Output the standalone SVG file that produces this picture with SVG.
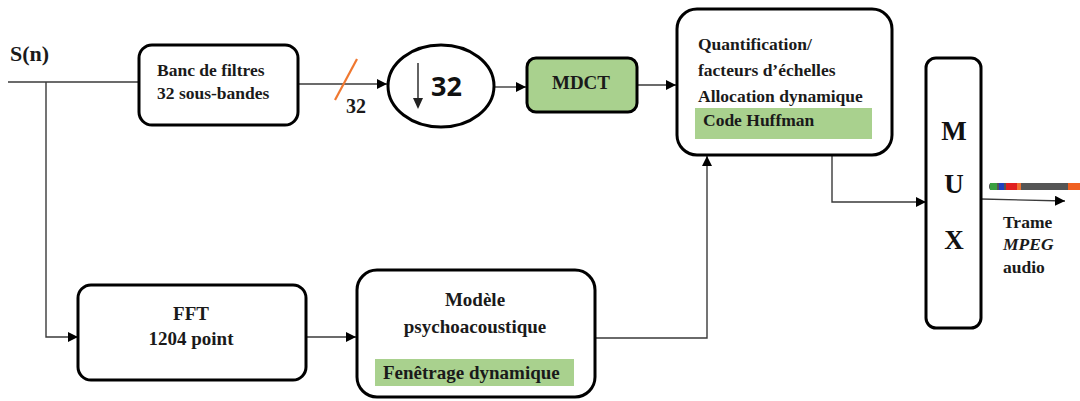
<svg xmlns="http://www.w3.org/2000/svg" width="1080" height="401" viewBox="0 0 1080 401">
  <style>
    .box { fill: #ffffff; stroke: #000000; stroke-width: 3; }
    .green { fill: #a9d18e; }
    .lbl { font-family: "Liberation Serif", "Times New Roman", serif; font-weight: bold; font-size: 17.5px; fill: #1a1a1a; }
    .lg { font-size: 19px; }
    .big { font-family: "Liberation Serif", "Times New Roman", serif; font-weight: bold; font-size: 27px; fill: #111111; text-anchor: middle; }
    .wire { fill: none; stroke: #3a3a3a; stroke-width: 1.4; }
  </style>
  <defs>
    <marker id="arrow" viewBox="0 0 10 10" refX="10" refY="5" markerWidth="10" markerHeight="10" markerUnits="userSpaceOnUse" orient="auto">
      <path d="M0,0 L10,5 L0,10 z" fill="#000000"/>
    </marker>
  </defs>

  <!-- input label -->
  <text class="lbl" x="10" y="61" style="font-size:22px">S(n)</text>

  <!-- connectors -->
  <g id="connectors">
    <line class="wire" x1="8" y1="82" x2="139" y2="82"/>
    <line class="wire" x1="298" y1="84" x2="387" y2="84" marker-end="url(#arrow)"/>
    <line x1="335" y1="100" x2="357" y2="59" stroke="#f07830" stroke-width="2.2"/>
    <line class="wire" x1="495" y1="87" x2="526" y2="87" marker-end="url(#arrow)"/>
    <line class="wire" x1="637" y1="85" x2="676" y2="85" marker-end="url(#arrow)"/>
    <polyline class="wire" points="46,82 46,337 78,337" marker-end="url(#arrow)"/>
    <line class="wire" x1="306" y1="337" x2="356" y2="337" marker-end="url(#arrow)"/>
    <polyline class="wire" points="595,338 707,338 707,156" marker-end="url(#arrow)"/>
    <polyline class="wire" points="832,155 832,202 926,202" marker-end="url(#arrow)"/>
    <line class="wire" x1="981" y1="199" x2="1065" y2="201" marker-end="url(#arrow)"/>
  </g>

  <g id="bus-label">
    <text class="lbl" x="346" y="113" style="font-size:20px">32</text>
  </g>

  <g id="banc">
    <rect class="box" x="139" y="45" width="159" height="80" rx="13"/>
    <text class="lbl" x="157" y="76">Banc de filtres</text>
    <text class="lbl" x="157" y="99">32 sous-bandes</text>
  </g>

  <g id="decimation">
    <ellipse class="box" cx="441" cy="86" rx="53" ry="41"/>
    <line x1="418" y1="63" x2="418" y2="100" stroke="#222" stroke-width="1.4"/>
    <path d="M413,98 L418,109 L423,98 z" fill="#222"/>
    <text x="431" y="96" style="font-family:'Open Sans','DejaVu Sans',sans-serif;font-weight:bold;font-size:27px;fill:#111">32</text>
  </g>

  <g id="mdct">
    <rect class="box" x="527" y="58" width="110" height="54" rx="9" style="fill:#a9d18e"/>
    <text class="lbl lg" x="581" y="89" text-anchor="middle">MDCT</text>
  </g>

  <g id="quantification">
    <rect class="box" x="677" y="9" width="215" height="146" rx="20"/>
    <text class="lbl" x="698" y="50">Quantification/</text>
    <text class="lbl" x="698" y="76">facteurs d’échelles</text>
    <text class="lbl" x="698" y="102">Allocation dynamique</text>
    <rect class="green" x="695" y="108" width="177" height="31"/>
    <text class="lbl" x="703" y="126">Code Huffman</text>
  </g>

  <g id="mux">
    <rect class="box" x="926" y="58" width="55" height="270" rx="10"/>
    <text class="big" x="954" y="140">M</text>
    <text class="big" x="954" y="193">U</text>
    <text class="big" x="954" y="249">X</text>
  </g>

  <g id="trame">
    <rect x="989" y="183" width="91" height="7" rx="3" fill="#555555"/>
    <rect x="990" y="183" width="7" height="7" fill="#3aa040"/>
    <rect x="999" y="183" width="5" height="7" fill="#2040c0"/>
    <rect x="1006" y="183" width="11" height="7" fill="#e02020"/>
    <rect x="1017" y="183" width="4" height="7" fill="#f07030"/>
    <rect x="1068" y="183" width="12" height="7" fill="#f06020"/>
    <text class="lbl" x="1003" y="228">Trame</text>
    <text class="lbl" x="1003" y="250" font-style="italic">MPEG</text>
    <text class="lbl" x="1003" y="273">audio</text>
  </g>

  <g id="fft">
    <rect class="box" x="78" y="285" width="228" height="95" rx="13"/>
    <text class="lbl lg" x="191" y="320" text-anchor="middle">FFT</text>
    <text class="lbl lg" x="191" y="345" text-anchor="middle">1204 point</text>
  </g>

  <g id="modele">
    <rect class="box" x="357" y="270" width="238" height="127" rx="20"/>
    <text class="lbl lg" x="475" y="306" text-anchor="middle">Modèle</text>
    <text class="lbl lg" x="475" y="333" text-anchor="middle">psychoacoustique</text>
    <rect class="green" x="375" y="359" width="199" height="27"/>
    <text class="lbl" x="383" y="379" style="font-size:19px">Fenêtrage dynamique</text>
  </g>
</svg>
